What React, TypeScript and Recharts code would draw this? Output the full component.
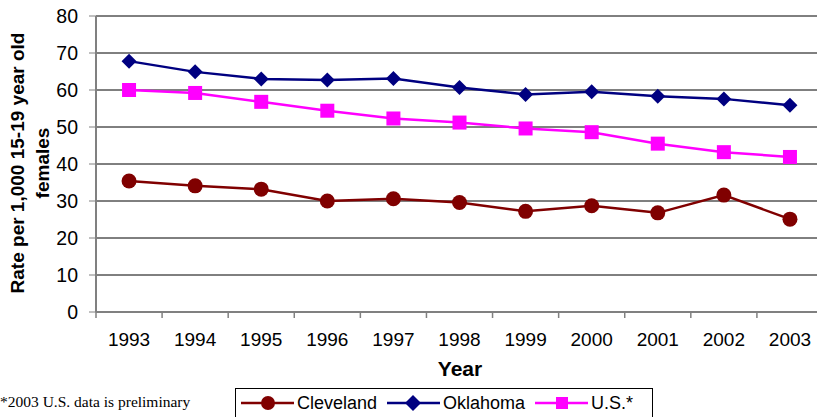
import { LineChart, Line, XAxis, YAxis, CartesianGrid, Legend } from 'recharts'

const years = ['1993', '1994', '1995', '1996', '1997', '1998', '1999', '2000', '2001', '2002', '2003']
const cleveland = [35.4, 34.1, 33.2, 30.0, 30.6, 29.6, 27.2, 28.7, 26.8, 31.6, 25.1]
const oklahoma = [67.8, 64.9, 63.0, 62.7, 63.1, 60.7, 58.8, 59.5, 58.3, 57.6, 55.9]
const us = [60.0, 59.2, 56.8, 54.4, 52.3, 51.2, 49.6, 48.6, 45.5, 43.2, 41.9]
const yTicks = [0, 10, 20, 30, 40, 50, 60, 70, 80]

const data = years.map((year, i) => ({
  year,
  Cleveland: cleveland[i],
  Oklahoma: oklahoma[i],
  'U.S.*': us[i],
}))

const CHART_W = 830
const CHART_H = 417
const PLOT_LEFT = 96
const PLOT_RIGHT = 823
const HALF_STEP = (PLOT_RIGHT - PLOT_LEFT) / years.length / 2

const RED = '#800000'
const NAVY = '#000080'
const PINK = '#FF00FF'
const FONT = '"Liberation Sans", Arial, sans-serif'

const CircleDot = (props: any) => {
  const { cx, cy } = props
  if (cx == null || cy == null) return null
  return <circle cx={cx} cy={cy} r={7.5} fill={RED} />
}

const DiamondDot = (props: any) => {
  const { cx, cy } = props
  if (cx == null || cy == null) return null
  const s = 7.5
  return <polygon points={`${cx},${cy - s} ${cx + s},${cy} ${cx},${cy + s} ${cx - s},${cy}`} fill={NAVY} />
}

const SquareDot = (props: any) => {
  const { cx, cy } = props
  if (cx == null || cy == null) return null
  const s = 7
  return <rect x={cx - s} y={cy - s} width={s * 2} height={s * 2} fill={PINK} />
}

const XTick = (props: any) => {
  const { x, y, payload } = props
  return (
    <g>
      <line x1={x - HALF_STEP} x2={x - HALF_STEP} y1={y} y2={y + 6} stroke="#808080" strokeWidth={1.5} />
      <text x={x} y={y + 34} textAnchor="middle" fontSize={19} fill="#000" fontFamily={FONT}>
        {payload.value}
      </text>
    </g>
  )
}

const YLabel = () => {
  const cy = 163
  return (
    <g fontFamily={FONT} fontWeight="bold" fontSize={19} fill="#000" textAnchor="middle">
      <text x={24} y={cy} transform={`rotate(-90, 24, ${cy})`}>
        Rate per 1,000 15-19 year old
      </text>
      <text x={49} y={cy} transform={`rotate(-90, 49, ${cy})`}>
        females
      </text>
    </g>
  )
}

const XLabel = () => (
  <text x={460} y={376} textAnchor="middle" fontFamily={FONT} fontWeight="bold" fontSize={21} fill="#000">
    Year
  </text>
)

const legendIcons: Record<string, (c: string) => any> = {
  Cleveland: (c) => <circle cx={27} cy={10} r={7} fill={c} />,
  Oklahoma: (c) => <polygon points="20,2 28,10 20,18 12,10" fill={c} transform="translate(6,0)" />,
  'U.S.*': (c) => <rect x={21} y={4} width={12} height={12} fill={c} />,
}

const LegendBox = (props: any) => {
  const { payload } = props
  return (
    <div
      style={{
        border: '1px solid #000',
        width: 418,
        height: 32,
        boxSizing: 'border-box',
        display: 'flex',
        alignItems: 'center',
        paddingLeft: 5,
        paddingBottom: 2,
        fontFamily: FONT,
        fontSize: 18,
        background: '#fff',
      }}
    >
      {(payload || []).map((entry: any) => (
        <div key={entry.value} style={{ display: 'flex', alignItems: 'center', marginRight: 10 }}>
          <svg width={53} height={20}>
            <line x1={0} x2={53} y1={10} y2={10} stroke={entry.color} strokeWidth={2.5} />
            {legendIcons[entry.value](entry.color)}
          </svg>
          <span style={{ marginLeft: 3 }}>{entry.value}</span>
        </div>
      ))}
    </div>
  )
}

export default function App() {
  return (
    <div
      style={{
        position: 'absolute',
        left: 0,
        top: 0,
        width: 817,
        height: 417,
        overflow: 'hidden',
        background: '#fff',
      }}
    >
      <LineChart
        width={CHART_W}
        height={CHART_H}
        data={data}
        margin={{ top: 16, right: CHART_W - PLOT_RIGHT, bottom: 75, left: 0 }}
      >
        <CartesianGrid horizontal vertical={false} stroke="#000" strokeWidth={1} />
        <XAxis
          dataKey="year"
          padding={{ left: HALF_STEP, right: HALF_STEP }}
          height={30}
          tickSize={0}
          tickMargin={0}
          tick={<XTick />}
          axisLine={{ stroke: '#808080', strokeWidth: 2 }}
          tickLine={false}
          interval={0}
          label={<XLabel />}
        />
        <YAxis
          width={PLOT_LEFT}
          domain={[0, 80]}
          ticks={yTicks}
          interval={0}
          tickSize={7}
          tickMargin={11}
          tick={{ fontSize: 19.5, fill: '#000', fontFamily: FONT }}
          axisLine={{ stroke: '#808080', strokeWidth: 2 }}
          tickLine={{ stroke: '#808080' }}
          label={<YLabel />}
        />
        <Legend
          layout="horizontal"
          verticalAlign="middle"
          align="center"
          content={<LegendBox />}
          wrapperStyle={{ top: 388, left: 235, width: 418, height: 32 }}
        />
        <Line
          type="linear"
          dataKey="Cleveland"
          stroke={RED}
          strokeWidth={2.5}
          dot={<CircleDot />}
          activeDot={false}
          isAnimationActive={false}
        />
        <Line
          type="linear"
          dataKey="Oklahoma"
          stroke={NAVY}
          strokeWidth={2.5}
          dot={<DiamondDot />}
          activeDot={false}
          isAnimationActive={false}
        />
        <Line
          type="linear"
          dataKey="U.S.*"
          stroke={PINK}
          strokeWidth={2.5}
          dot={<SquareDot />}
          activeDot={false}
          isAnimationActive={false}
        />
      </LineChart>
      <div
        style={{
          position: 'absolute',
          left: 0,
          top: 393,
          fontFamily: '"Liberation Serif", "Times New Roman", serif',
          fontSize: 15.5,
          lineHeight: '18px',
          color: '#000',
          whiteSpace: 'nowrap',
        }}
      >
        *2003 U.S. data is preliminary
      </div>
    </div>
  )
}
